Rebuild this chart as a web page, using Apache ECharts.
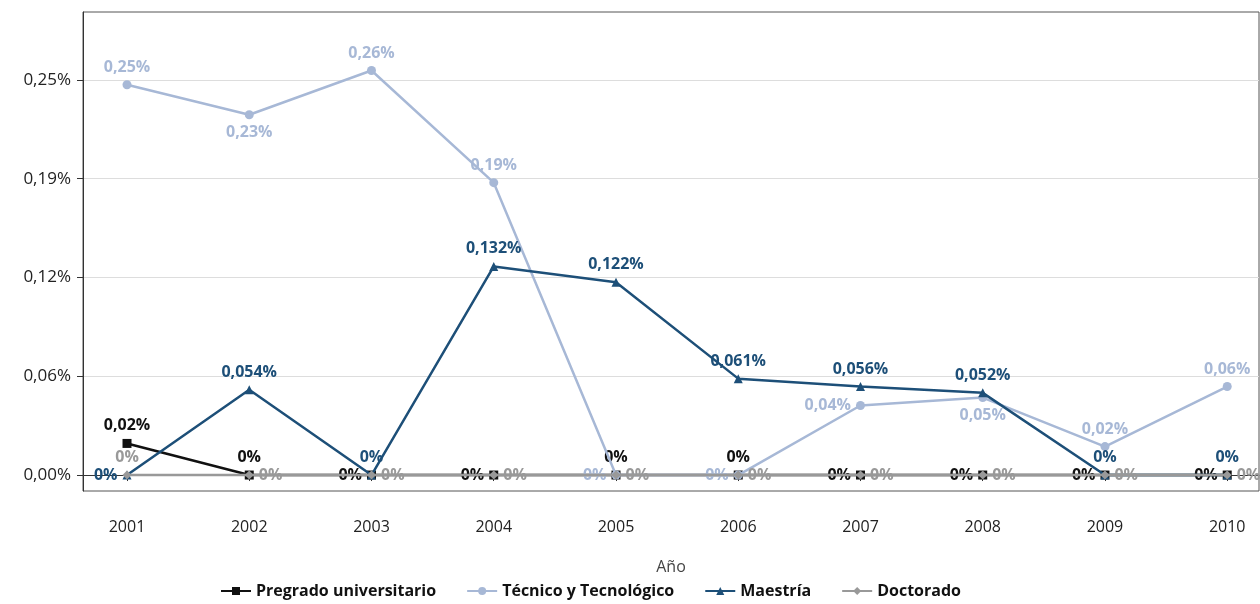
<!DOCTYPE html>
<html>
<head>
<meta charset="utf-8">
<script src="https://cdn.jsdelivr.net/npm/echarts@6/dist/echarts.min.js"></script>
</head>
<body style="margin:0">
<div id="main" style="width:1260px;height:604px;"></div>
<script>
var years = [2001,2002,2003,2004,2005,2006,2007,2008,2009,2010];
var pregrado = [0.020,0,0,0,0,0,0,0,0,0];
var pregradoLbl = ['0,02%','0%','0%','0%','0%','0%','0%','0%','0%','0%'];
var tecnico = [0.247,0.228,0.256,0.185,0,0,0.044,0.049,0.018,0.056];
var tecnicoLbl = ['0,25%','0,23%','0,26%','0,19%','0%','0%','0,04%','0,05%','0,02%','0,06%'];
var maestria = [0,0.054,0,0.132,0.122,0.061,0.056,0.052,0,0];
var maestriaLbl = ['0%','0,054%','0%','0,132%','0,122%','0,061%','0,056%','0,052%','0%','0%'];
var doctorado = [0,0,0,0,0,0,0,0,0,0];
var doctoradoLbl = ['0%','0%','0%','0%','0%','0%','0%','0%','0%','0%'];
var yTicks = [0,0.0625,0.125,0.1875,0.25];
var yTickLbl = ['0,00%','0,06%','0,12%','0,19%','0,25%'];

// label placement per point
var posPre = ['top','top','left','left','top','top','left','left','left','left'];
var posTec = ['top','bottom','top','top','left','left','left','bottom','top','top'];
var posMae = ['left','top','top','top','top','top','top','top','top','top'];
var posDoc = ['top','right','right','right','right','right','right','right','right','right'];

function build(vals, lbls, pos){
	return vals.map(function(v,i){
		return {value:[years[i],v], label:{position:pos[i], formatter:lbls[i]}};
	});
}
function ser(name, vals, lbls, pos, color, sym, z){
	return {
		name:name, type:'line', data:build(vals,lbls,pos), z:z,
		symbol:sym, symbolSize:9, color:color,
		lineStyle:{color:color, width:2.5},
		itemStyle:{color:color},
		label:{show:true, color:color, fontWeight:'bold', fontSize:16, distance:5}
	};
}
var myChart = echarts.init(document.getElementById('main'));
var option = {
	textStyle:{fontFamily:'Open Sans'},
	grid:{left:83, right:1, top:12, bottom:113, show:true, borderColor:'#555', borderWidth:1},
	legend:{
		bottom:0, left:215, itemGap:30, itemWidth:30, itemHeight:10,
		textStyle:{fontSize:16, fontWeight:'bold', color:'#111'},
		data:['Pregrado universitario','Técnico y Tecnológico','Maestría','Doctorado']
	},
	xAxis:{
		type:'value', min:2000.64, max:2010.26,
		name:'Año', nameLocation:'middle', nameGap:68,
		nameTextStyle:{fontSize:16, color:'#444'},
		axisLine:{show:true, lineStyle:{color:'#333'}},
		axisTick:{show:true, customValues:years, length:6, lineStyle:{color:'#333'}},
		axisLabel:{customValues:years, fontSize:16, color:'#222', margin:28, formatter:function(v){return String(v);}},
		splitLine:{show:false}
	},
	yAxis:{
		type:'value', min:-0.0101, max:0.293,
		axisLine:{show:true, lineStyle:{color:'#333'}},
		axisTick:{show:true, customValues:yTicks, length:6, lineStyle:{color:'#333'}},
		axisLabel:{customValues:yTicks, fontSize:17, color:'#222', margin:12,
			formatter:function(v){var i=yTicks.indexOf(v);return i<0?'':yTickLbl[i];}},
		splitLine:{show:true, lineStyle:{color:'#ddd'}}
	},
	series:[
		ser('Pregrado universitario', pregrado, pregradoLbl, posPre, '#111111', 'rect', 2),
		ser('Técnico y Tecnológico', tecnico, tecnicoLbl, posTec, '#a7b8d6', 'circle', 3),
		ser('Maestría', maestria, maestriaLbl, posMae, '#1d4f78', 'triangle', 4),
		ser('Doctorado', doctorado, doctoradoLbl, posDoc, '#999999', 'diamond', 5)
	]
};
myChart.setOption(option);
</script>
</body>
</html>
